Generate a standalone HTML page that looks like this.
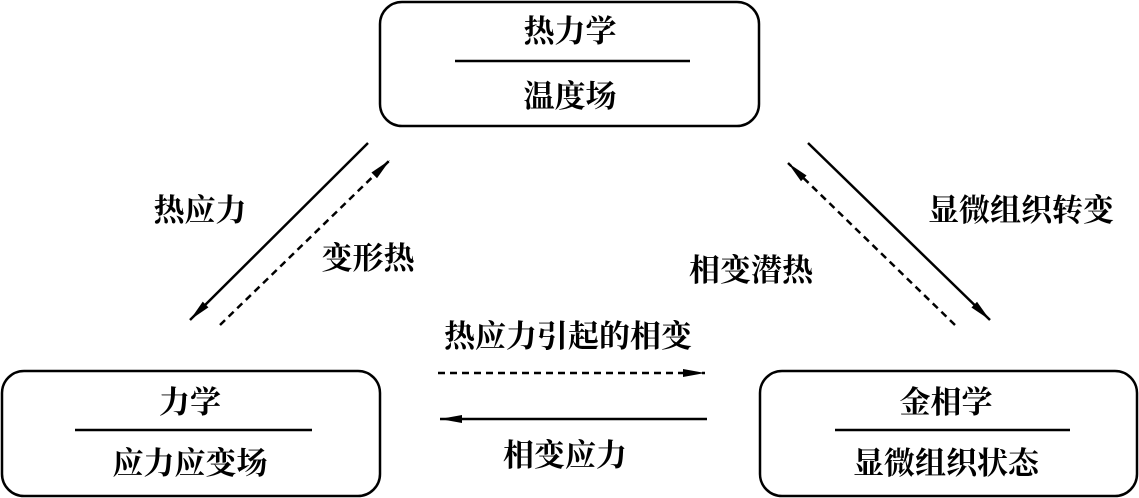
<!DOCTYPE html>
<html><head><meta charset="utf-8"><style>
html,body{margin:0;padding:0;background:#fff;}
body{width:1139px;height:498px;overflow:hidden;position:relative;}
svg{position:absolute;left:0;top:0;}
text{font-family:"Liberation Serif","Noto Serif CJK SC",serif;font-size:31px;font-weight:700;fill:#000;}
</style></head><body>
<svg width="1139" height="498" viewBox="0 0 1139 498">
<defs>
<marker id="ah" viewBox="0 0 22 10" refX="22" refY="5" markerWidth="22" markerHeight="10" markerUnits="userSpaceOnUse" orient="auto">
<path d="M0,1 L22,5 L0,9 Z" fill="#000"/></marker>
</defs>
<g fill="none" stroke="#000" stroke-width="2.5">
<rect x="380" y="2" width="379" height="124" rx="22"/>
<rect x="2" y="371" width="378" height="125" rx="22"/>
<rect x="760" y="371" width="377" height="125" rx="22"/>
<line x1="455" y1="61" x2="690" y2="61"/>
<line x1="75" y1="430" x2="312" y2="430"/>
<line x1="835" y1="430" x2="1070" y2="430"/>
<line x1="368" y1="143" x2="190" y2="320" marker-end="url(#ah)"/>
<line x1="220" y1="325" x2="390" y2="160" stroke-dasharray="7,5" marker-end="url(#ah)"/>
<line x1="808" y1="143" x2="990" y2="320" marker-end="url(#ah)"/>
<line x1="955" y1="325" x2="788" y2="163" stroke-dasharray="7,5" marker-end="url(#ah)"/>
<line x1="438" y1="373" x2="705" y2="373" stroke-dasharray="7,5" marker-end="url(#ah)"/>
<line x1="707" y1="419" x2="440" y2="419" marker-end="url(#ah)"/>
</g>
<g text-anchor="middle">
<text x="570" y="42">热力学</text>
<text x="570" y="107">温度场</text>
<text x="190" y="413">力学</text>
<text x="190" y="474">应力应变场</text>
<text x="946" y="413">金相学</text>
<text x="946" y="474">显微组织状态</text>
<text x="200" y="221">热应力</text>
<text x="368" y="269">变形热</text>
<text x="751" y="281">相变潜热</text>
<text x="1021" y="221">显微组织转变</text>
<text x="568" y="347">热应力引起的相变</text>
<text x="565" y="466">相变应力</text>
</g>
</svg>
</body></html>
